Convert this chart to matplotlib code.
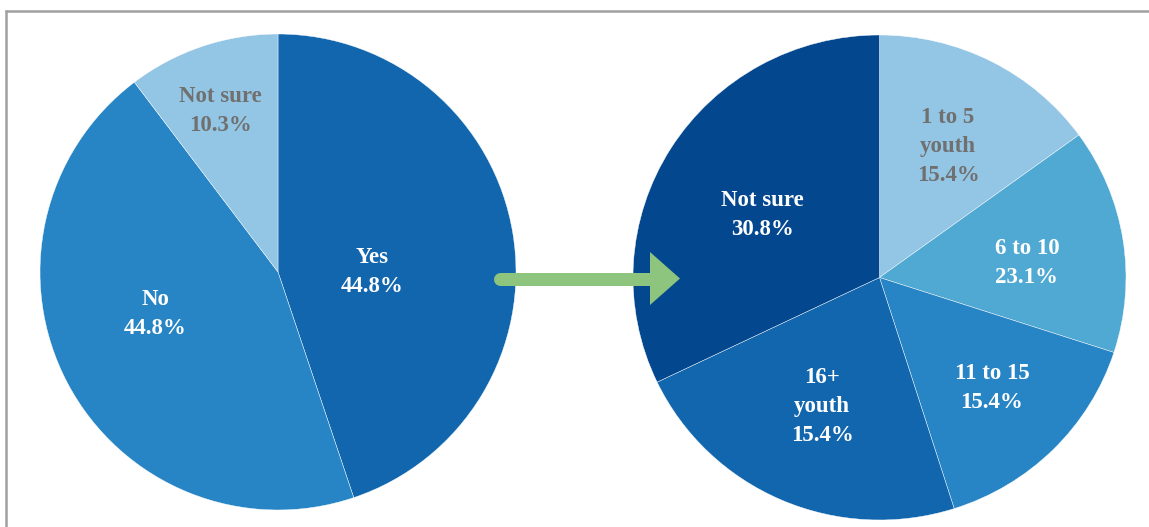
import matplotlib.pyplot as plt
import numpy as np

# left pie
left_labels = ["Yes", "No", "Not sure"]
left_values = [44.8, 44.8, 10.3]
left_pct = ["44.8%", "44.8%", "10.3%"]

# right pie: wedge sizes as drawn, and the printed labels
right_labels = ["1 to 5\nyouth", "6 to 10", "11 to 15", "16+\nyouth", "Not sure"]
right_values = [15.0, 15.0, 15.1, 22.8, 32.1]
right_pct = ["15.4%", "23.1%", "15.4%", "15.4%", "30.8%"]

LIGHT = "#93c5e4"
MID = "#4fa9d2"
BLUE = "#2885c5"
DARK = "#1166ae"
NAVY = "#03478e"
GRAY_TXT = "#707070"

left_colors = [DARK, BLUE, LIGHT]
right_colors = [LIGHT, MID, BLUE, DARK, NAVY]
left_txt = ["white", "white", GRAY_TXT]
right_txt = [GRAY_TXT, "white", "white", "white", "white"]

# label placement (angle in deg, distance as fraction of radius)
left_pos = [(0, 0.395), (199, 0.546), (109.7, 0.72)]
right_pos = [(62.7, 0.606), (5.7, 0.601), (-45, 0.645), (-113.7, 0.579), (151.4, 0.539)]

W, H = 1149, 527
fig = plt.figure(figsize=(W / 100, H / 100), dpi=100)
font = dict(family="Liberation Serif", weight="bold", fontsize=16.5, linespacing=1.5)


def draw_pie(rect, values, colors, labels, pcts, pos, txtc):
    ax = fig.add_axes(rect)
    ax.pie(values, colors=colors, startangle=90, counterclock=False, radius=1,
           wedgeprops=dict(edgecolor="white", linewidth=0.3))
    for lab, pct, (ang, d), c in zip(labels, pcts, pos, txtc):
        a = np.deg2rad(ang)
        ax.text(d * np.cos(a), d * np.sin(a), f"{lab}\n{pct}", ha="center",
                va="center", color=c, **font)
    ax.set_xlim(-1, 1)
    ax.set_ylim(-1, 1)
    ax.set_aspect("auto")
    ax.axis("off")
    return ax


# left: center (278, 272) r 238 px; right: center (879.5, 277.5), 246.5 x 242.5 px
draw_pie([(278 - 238) / W, (H - 272 - 238) / H, 476 / W, 476 / H],
         left_values, left_colors, left_labels, left_pct, left_pos, left_txt)
draw_pie([(879.5 - 246.5) / W, (H - 277.5 - 242.5) / H, 493 / W, 485 / H],
         right_values, right_colors, right_labels, right_pct, right_pos, right_txt)

# overlay in pixel coordinates for frame and arrow
ov = fig.add_axes([0, 0, 1, 1], zorder=5)
ov.set_xlim(0, W)
ov.set_ylim(H, 0)
ov.axis("off")
ov.patch.set_alpha(0)
frame = "#a0a0a0"
ov.plot([5, W], [10.5, 10.5], color=frame, lw=1.8, solid_capstyle="butt")
ov.plot([5.5, 5.5], [10, H], color=frame, lw=1.8, solid_capstyle="butt")

green = "#8dc47e"
ov.plot([500, 652], [278.5, 278.5], color=green, lw=13 * 0.72, solid_capstyle="round")
ov.add_patch(plt.Polygon([(650, 252), (680, 278.5), (650, 305)], closed=True,
                         facecolor=green, edgecolor="none"))

fig.savefig("out.png", dpi=100)
